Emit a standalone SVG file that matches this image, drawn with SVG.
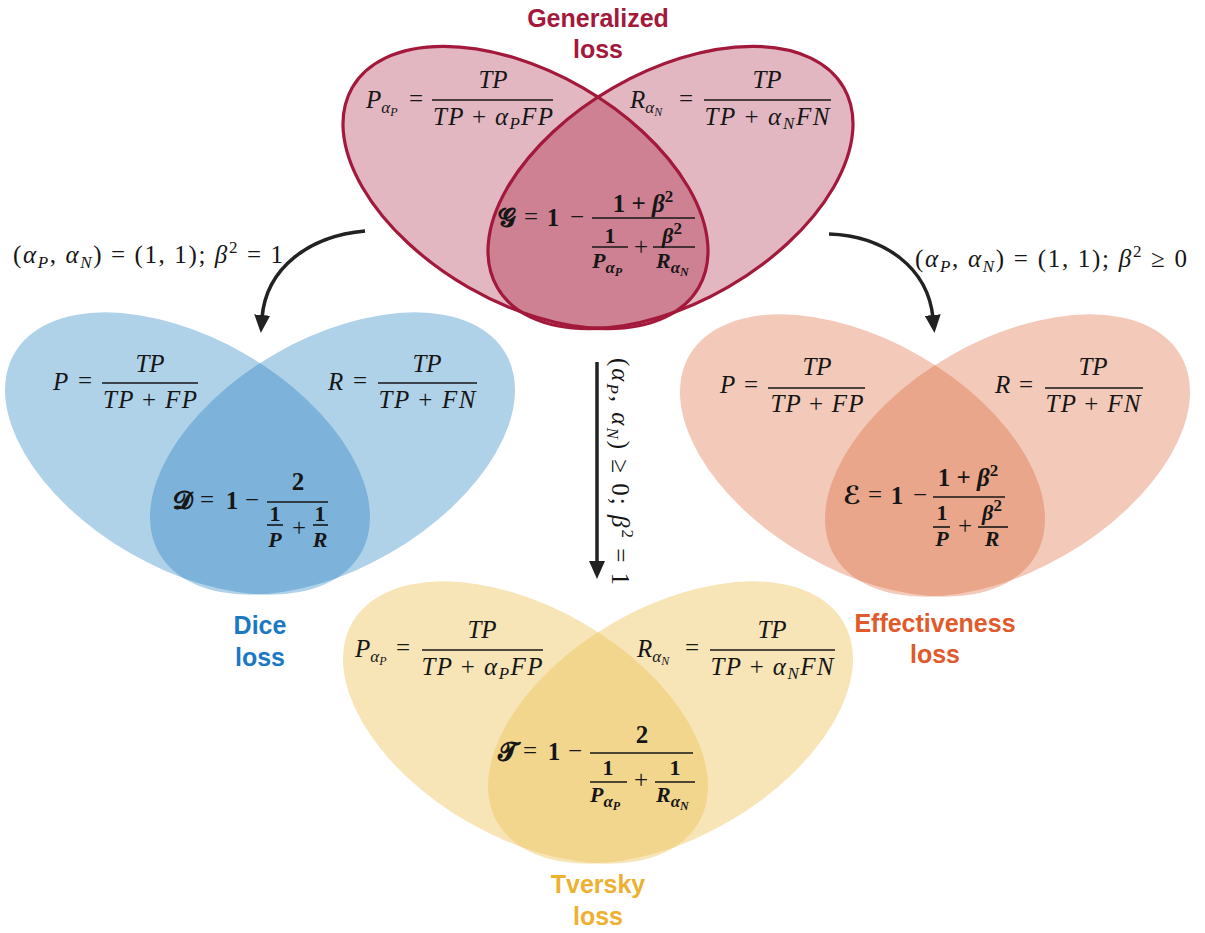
<svg xmlns="http://www.w3.org/2000/svg" width="1205" height="933" viewBox="0 0 1205 933">
<style>
.m{font-family:"Liberation Serif","DejaVu Serif",serif;font-style:italic;font-size:25px;fill:#161616}
.f22{font-size:22px}
.u{font-style:normal}
.i{font-style:italic}
.b{font-weight:bold}
.n{font-weight:normal}
.s{font-size:17px}
.ss{font-size:12px}
.mid{text-anchor:middle}
.bar{stroke:#161616;stroke-width:1.6}
.lbl{font-family:"Liberation Sans",Arial,sans-serif;font-weight:bold;font-size:25px;text-anchor:middle}
.arr{fill:none;stroke:#222;stroke-width:3.5}
.scr{font-family:"DejaVu Serif","DejaVu Sans","Noto Sans",serif;font-style:normal;font-weight:bold}
.al{font-size:25px}
</style>
<defs>
<ellipse id="eL" cx="-72.5" cy="90.5" rx="200" ry="115" transform="rotate(30 -72.5 90.5)"/>
<ellipse id="eR" cx="72.5" cy="90.5" rx="200" ry="115" transform="rotate(-30 72.5 90.5)"/>
<clipPath id="cL"><use href="#eL"/></clipPath>
<marker id="ah" viewBox="0 0 18 16" refX="3" refY="8" markerWidth="18" markerHeight="16" orient="auto" markerUnits="userSpaceOnUse"><path d="M0,0 L18,8 L0,16 z" fill="#222"/></marker>
</defs>

<g id="generalized">
<g transform="translate(598,97)">
<use href="#eL" fill="#E2B7C2"/>
<use href="#eR" fill="#E2B7C2"/>
<use href="#eR" fill="#CD8193" clip-path="url(#cL)"/>
<use href="#eL" fill="none" stroke="#A3193B" stroke-width="3.2"/>
<use href="#eR" fill="none" stroke="#A3193B" stroke-width="3.2"/>
</g>
<text class="lbl" x="598" y="27" fill="#A3193B">Generalized</text>
<text class="lbl" x="598" y="58" fill="#A3193B">loss</text>
<text class="m" x="366" y="108">P<tspan class="s" dy="5">α</tspan><tspan class="ss" dy="3">P</tspan></text>
<text class="m u mid" x="416" y="107">=</text>
<text class="m mid" x="493" y="88">TP</text>
<line class="bar" x1="432" y1="100" x2="553" y2="100"/>
<text class="m mid" x="493" y="125" textLength="120" lengthAdjust="spacing">TP <tspan class="u">+</tspan> α<tspan class="s" dy="4">P</tspan><tspan dy="-4">FP</tspan></text>
<text class="m" x="630" y="108">R<tspan class="s" dy="5">α</tspan><tspan class="ss" dy="3">N</tspan></text>
<text class="m u mid" x="686" y="107">=</text>
<text class="m mid" x="767" y="88">TP</text>
<line class="bar" x1="704" y1="100" x2="831" y2="100"/>
<text class="m mid" x="767" y="125" textLength="125" lengthAdjust="spacing">TP <tspan class="u">+</tspan> α<tspan class="s" dy="4">N</tspan><tspan dy="-4">FN</tspan></text>
<text class="m scr mid" x="507" y="226">𝓖</text>
<text class="m u mid" x="531" y="225">=</text>
<text class="m u b mid" x="553" y="226">1</text>
<text class="m u mid" x="577" y="225">−</text>
<line class="bar" x1="592" y1="218" x2="695" y2="218"/>
<text class="m b mid" x="643" y="212"><tspan class="u">1 + </tspan>β<tspan class="u s" dy="-10">2</tspan></text>
<text class="m f22 u b mid" x="610" y="243">1</text>
<line class="bar" x1="592" y1="247" x2="628" y2="247"/>
<text class="m f22 b" x="592" y="268">P<tspan class="s" dy="5">α</tspan><tspan class="ss" dy="3">P</tspan></text>
<text class="m u mid" x="641" y="255">+</text>
<text class="m f22 b mid" x="672" y="243">β<tspan class="u s" dy="-9">2</tspan></text>
<line class="bar" x1="653" y1="247" x2="695" y2="247"/>
<text class="m f22 b" x="656" y="268">R<tspan class="s" dy="5">α</tspan><tspan class="ss" dy="3">N</tspan></text>
</g>

<g id="dice">
<g transform="translate(260,363)">
<use href="#eL" fill="#B0D2E9"/>
<use href="#eR" fill="#B0D2E9"/>
<use href="#eR" fill="#7DB3DA" clip-path="url(#cL)"/>
</g>
<text class="lbl" x="260" y="634" fill="#1B79C4">Dice</text>
<text class="lbl" x="260" y="666" fill="#1B79C4">loss</text>
<text class="m" x="53" y="390">P</text>
<text class="m u mid" x="85" y="389">=</text>
<text class="m mid" x="150" y="372">TP</text>
<line class="bar" x1="102" y1="383" x2="198" y2="383"/>
<text class="m mid" x="150" y="408" textLength="94" lengthAdjust="spacing">TP <tspan class="u">+</tspan> FP</text>
<text class="m" x="328" y="390">R</text>
<text class="m u mid" x="360" y="389">=</text>
<text class="m mid" x="427" y="372">TP</text>
<line class="bar" x1="378" y1="383" x2="477" y2="383"/>
<text class="m mid" x="427" y="408" textLength="97" lengthAdjust="spacing">TP <tspan class="u">+</tspan> FN</text>
<text class="m scr mid" x="182" y="509">𝓓</text>
<text class="m u mid" x="207" y="508">=</text>
<text class="m u b mid" x="232" y="509">1</text>
<text class="m u mid" x="252" y="508">−</text>
<line class="bar" x1="267" y1="502" x2="328" y2="502"/>
<text class="m u b mid" x="298" y="490">2</text>
<text class="m f22 u b mid" x="275" y="521">1</text>
<line class="bar" x1="267" y1="525" x2="283" y2="525"/>
<text class="m f22 b mid" x="275" y="547">P</text>
<text class="m u mid" x="299" y="536">+</text>
<text class="m f22 u b mid" x="320" y="521">1</text>
<line class="bar" x1="313" y1="525" x2="328" y2="525"/>
<text class="m f22 b mid" x="320" y="547">R</text>
</g>

<g id="effectiveness">
<g transform="translate(935,365)">
<use href="#eL" fill="#F3C9B9"/>
<use href="#eR" fill="#F3C9B9"/>
<use href="#eR" fill="#EAA68A" clip-path="url(#cL)"/>
</g>
<text class="lbl" x="935" y="632" fill="#E05A2B">Effectiveness</text>
<text class="lbl" x="935" y="663" fill="#E05A2B">loss</text>
<text class="m" x="720" y="393">P</text>
<text class="m u mid" x="751" y="393">=</text>
<text class="m mid" x="817" y="375">TP</text>
<line class="bar" x1="768" y1="388" x2="865" y2="388"/>
<text class="m mid" x="817" y="412" textLength="93" lengthAdjust="spacing">TP <tspan class="u">+</tspan> FP</text>
<text class="m" x="995" y="393">R</text>
<text class="m u mid" x="1026" y="393">=</text>
<text class="m mid" x="1093" y="375">TP</text>
<line class="bar" x1="1045" y1="388" x2="1143" y2="388"/>
<text class="m mid" x="1093" y="412" textLength="95" lengthAdjust="spacing">TP <tspan class="u">+</tspan> FN</text>
<text class="m scr mid" x="852" y="504">ℰ</text>
<text class="m u mid" x="875" y="503">=</text>
<text class="m u b mid" x="897" y="504">1</text>
<text class="m u mid" x="920" y="503">−</text>
<line class="bar" x1="933" y1="497" x2="1005" y2="497"/>
<text class="m b mid" x="968" y="486"><tspan class="u">1 + </tspan>β<tspan class="u s" dy="-10">2</tspan></text>
<text class="m f22 u b mid" x="942" y="520">1</text>
<line class="bar" x1="933" y1="527" x2="950" y2="527"/>
<text class="m f22 b mid" x="942" y="546">P</text>
<text class="m u mid" x="965" y="534">+</text>
<text class="m f22 b mid" x="992" y="520">β<tspan class="u s" dy="-9">2</tspan></text>
<line class="bar" x1="978" y1="527" x2="1008" y2="527"/>
<text class="m f22 b mid" x="992" y="546">R</text>
</g>

<g id="tversky">
<g transform="translate(598,632)">
<use href="#eL" fill="#F8E5B7"/>
<use href="#eR" fill="#F8E5B7"/>
<use href="#eR" fill="#F3D68D" clip-path="url(#cL)"/>
</g>
<text class="lbl" x="598" y="893" fill="#EDB031">Tversky</text>
<text class="lbl" x="598" y="925" fill="#EDB031">loss</text>
<text class="m" x="355" y="657">P<tspan class="s" dy="5">α</tspan><tspan class="ss" dy="3">P</tspan></text>
<text class="m u mid" x="403" y="656">=</text>
<text class="m mid" x="482" y="638">TP</text>
<line class="bar" x1="422" y1="650" x2="543" y2="650"/>
<text class="m mid" x="482" y="675" textLength="121" lengthAdjust="spacing">TP <tspan class="u">+</tspan> α<tspan class="s" dy="4">P</tspan><tspan dy="-4">FP</tspan></text>
<text class="m" x="637" y="657">R<tspan class="s" dy="5">α</tspan><tspan class="ss" dy="3">N</tspan></text>
<text class="m u mid" x="692" y="656">=</text>
<text class="m mid" x="772" y="638">TP</text>
<line class="bar" x1="710" y1="650" x2="835" y2="650"/>
<text class="m mid" x="772" y="675" textLength="123" lengthAdjust="spacing">TP <tspan class="u">+</tspan> α<tspan class="s" dy="4">N</tspan><tspan dy="-4">FN</tspan></text>
<text class="m scr mid" x="507" y="760">𝓣</text>
<text class="m u mid" x="530" y="759">=</text>
<text class="m u b mid" x="554" y="760">1</text>
<text class="m u mid" x="575" y="759">−</text>
<line class="bar" x1="590" y1="753" x2="693" y2="753"/>
<text class="m u b mid" x="642" y="743">2</text>
<text class="m f22 u b mid" x="608" y="775">1</text>
<line class="bar" x1="590" y1="782" x2="627" y2="782"/>
<text class="m f22 b" x="590" y="802">P<tspan class="s" dy="5">α</tspan><tspan class="ss" dy="3">P</tspan></text>
<text class="m u mid" x="641" y="788">+</text>
<text class="m f22 u b mid" x="675" y="775">1</text>
<line class="bar" x1="655" y1="782" x2="695" y2="782"/>
<text class="m f22 b" x="656" y="802">R<tspan class="s" dy="5">α</tspan><tspan class="ss" dy="3">N</tspan></text>
</g>

<g id="connectors">
<path class="arr" d="M365,231 C309,236 266,268 262,318" marker-end="url(#ah)"/>
<path class="arr" d="M829,234 C885,236 928,268 933,318" marker-end="url(#ah)"/>
<path class="arr" d="M597,362 L597,564" marker-end="url(#ah)"/>
<text class="m u al" x="13" y="263" textLength="270" lengthAdjust="spacing">(<tspan class="i">α</tspan><tspan class="i s" dy="5">P</tspan><tspan dy="-5">, </tspan><tspan class="i">α</tspan><tspan class="i s" dy="5">N</tspan><tspan dy="-5">) = (1, 1); </tspan><tspan class="i">β</tspan><tspan class="s" dy="-10">2</tspan><tspan dy="10"> = 1</tspan></text>
<text class="m u al" x="915" y="267" textLength="272" lengthAdjust="spacing">(<tspan class="i">α</tspan><tspan class="i s" dy="5">P</tspan><tspan dy="-5">, </tspan><tspan class="i">α</tspan><tspan class="i s" dy="5">N</tspan><tspan dy="-5">) = (1, 1); </tspan><tspan class="i">β</tspan><tspan class="s" dy="-10">2</tspan><tspan dy="10"> ≥ 0</tspan></text>
<text class="m u al" transform="translate(612,358) rotate(90)" x="0" y="0" textLength="227" lengthAdjust="spacing">(<tspan class="i">α</tspan><tspan class="i s" dy="5">P</tspan><tspan dy="-5">, </tspan><tspan class="i">α</tspan><tspan class="i s" dy="5">N</tspan><tspan dy="-5">) ≥ 0; </tspan><tspan class="i">β</tspan><tspan class="s" dy="-10">2</tspan><tspan dy="10"> = 1</tspan></text>
</g>
</svg>
